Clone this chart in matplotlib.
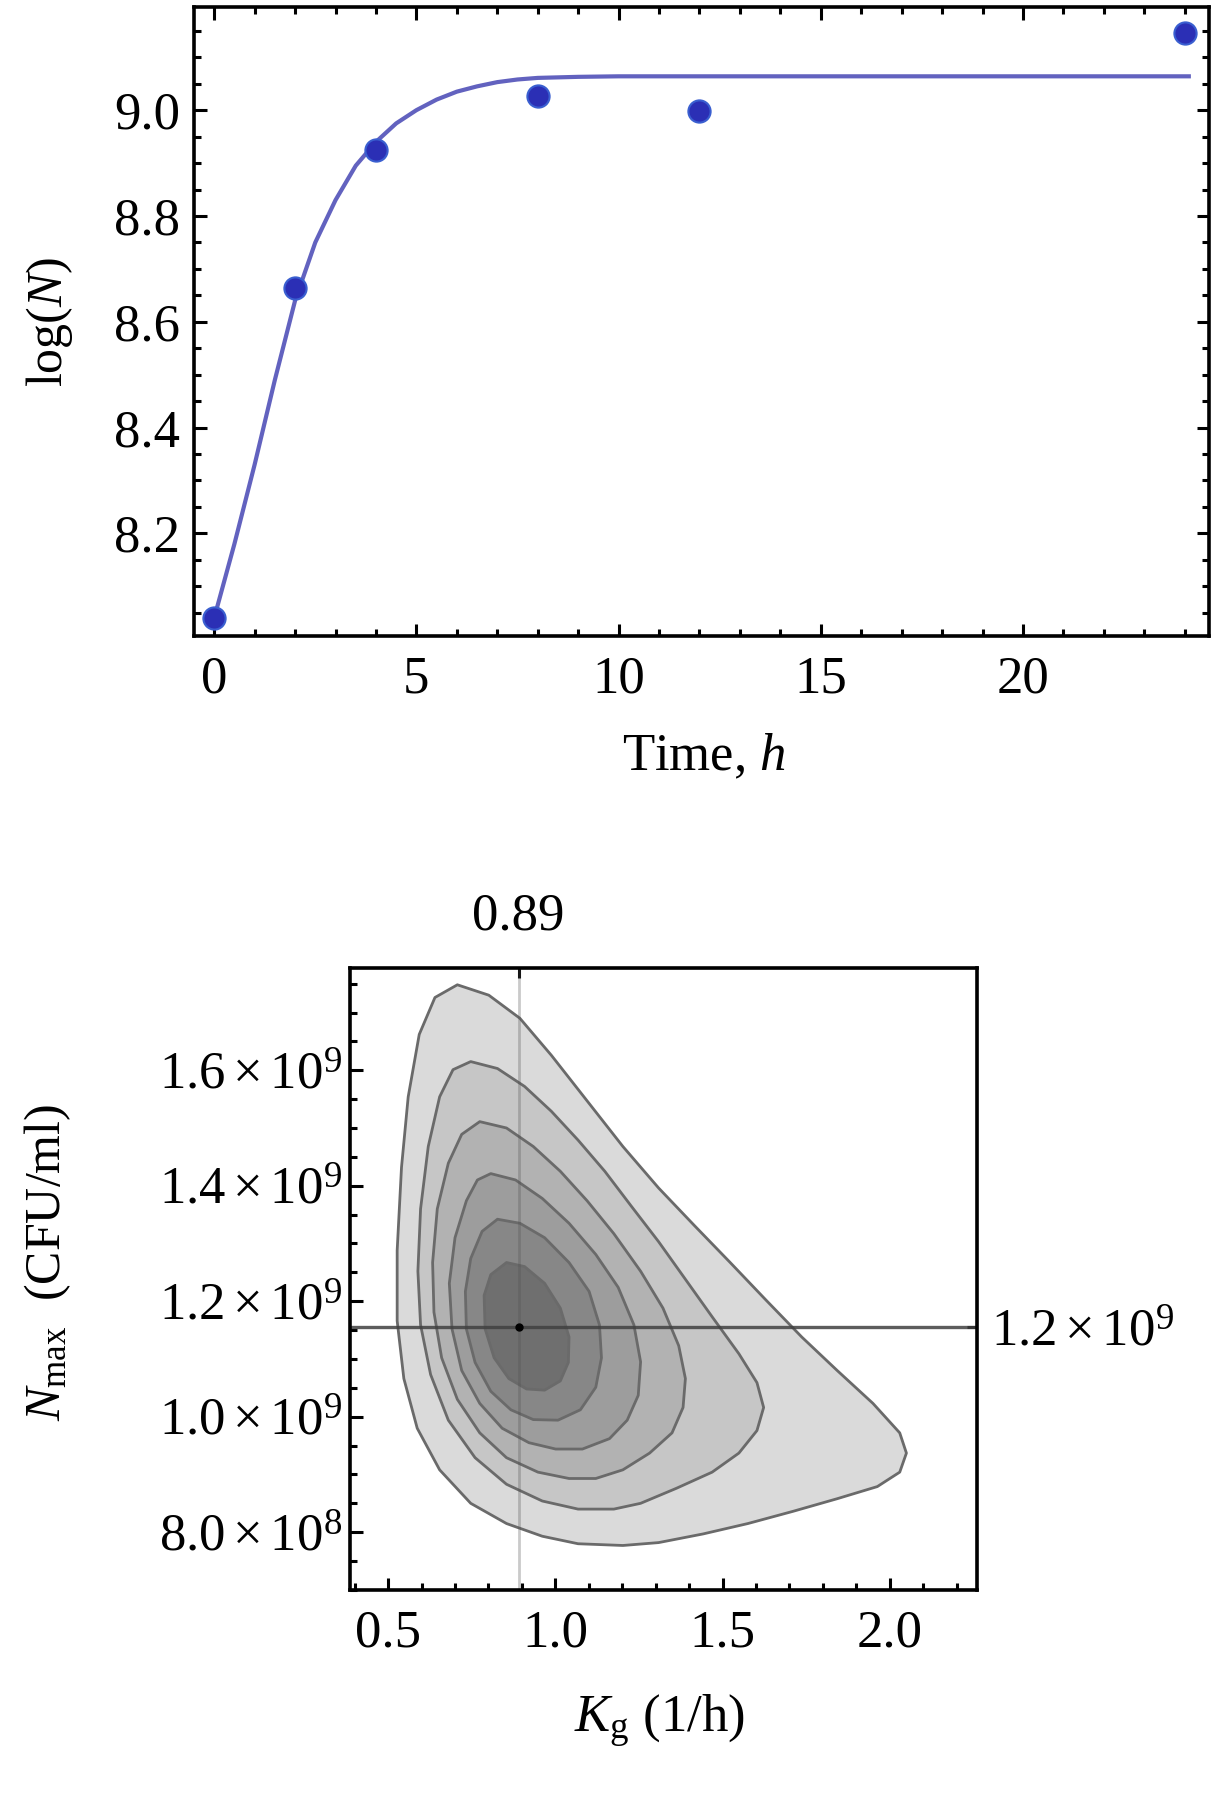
import numpy as np
import matplotlib
matplotlib.use("Agg")
import matplotlib.pyplot as plt
from matplotlib.ticker import MultipleLocator, FuncFormatter

plt.rcParams["font.family"] = ["Liberation Serif", "DejaVu Serif"]
plt.rcParams["mathtext.fontset"] = "custom"
plt.rcParams["mathtext.rm"] = "Liberation Serif"
plt.rcParams["mathtext.it"] = "Liberation Serif:italic"

# --- growth curve (top panel) ---
T_OBS = [0, 2, 4, 8, 12, 24]
LOGN_OBS = [8.04, 8.664, 8.924, 9.026, 8.998, 9.145]

T_FIT = [0.0, 0.5, 1.0, 1.5, 2.0, 2.5, 3.0, 3.5, 4.0, 4.5, 5.0, 5.5, 6.0,
         6.5, 7.0, 7.5, 8.0, 9.0, 10.0, 12.0, 16.0, 20.0, 24.1]
LOGN_FIT = [8.04, 8.18, 8.33, 8.49, 8.64, 8.75, 8.83, 8.895, 8.94, 8.975,
            9.0, 9.02, 9.035, 9.045, 9.053, 9.058, 9.061, 9.063, 9.064,
            9.064, 9.064, 9.064, 9.064]

# --- confidence region (bottom panel), N in units of 1e9 ---
KG_BEST = 0.89
NMAX_BEST = 1.155e9

C1_K = [0.707, 0.801, 0.894, 0.988, 1.095, 1.202, 1.309, 1.416, 1.523, 1.630,
        1.737, 1.843, 1.950, 2.030, 2.050, 2.030, 1.963, 1.843, 1.710, 1.576,
        1.442, 1.309, 1.202, 1.068, 0.961, 0.854, 0.747, 0.654, 0.587, 0.547,
        0.527, 0.527, 0.540, 0.560, 0.593, 0.640]
C1_N = [1.748, 1.730, 1.690, 1.626, 1.547, 1.468, 1.396, 1.331, 1.267, 1.202,
        1.138, 1.080, 1.023, 0.972, 0.937, 0.904, 0.879, 0.858, 0.836, 0.815,
        0.797, 0.782, 0.777, 0.780, 0.793, 0.815, 0.850, 0.908, 0.980, 1.066,
        1.166, 1.288, 1.432, 1.554, 1.662, 1.726]

C2_K = [0.747, 0.827, 0.908, 0.988, 1.068, 1.148, 1.228, 1.309, 1.389, 1.469,
        1.549, 1.603, 1.623, 1.603, 1.549, 1.469, 1.362, 1.255, 1.175, 1.068,
        0.961, 0.854, 0.760, 0.680, 0.627, 0.597, 0.589, 0.597, 0.620, 0.654,
        0.694]
C2_N = [1.615, 1.603, 1.572, 1.529, 1.479, 1.425, 1.364, 1.303, 1.238, 1.173,
        1.109, 1.059, 1.016, 0.976, 0.937, 0.904, 0.876, 0.850, 0.840, 0.840,
        0.854, 0.883, 0.929, 0.994, 1.073, 1.159, 1.252, 1.360, 1.468, 1.554,
        1.601]

C3_K = [0.774, 0.854, 0.934, 1.015, 1.095, 1.175, 1.255, 1.322, 1.369, 1.389,
        1.382, 1.349, 1.282, 1.202, 1.121, 1.041, 0.948, 0.854, 0.774, 0.707,
        0.660, 0.637, 0.633, 0.647, 0.680, 0.720]
C3_N = [1.511, 1.500, 1.468, 1.425, 1.374, 1.317, 1.252, 1.188, 1.123, 1.066,
        1.016, 0.972, 0.937, 0.908, 0.893, 0.893, 0.904, 0.929, 0.972, 1.030,
        1.102, 1.181, 1.267, 1.360, 1.439, 1.489]

C4_K = [0.807, 0.881, 0.961, 1.041, 1.121, 1.188, 1.235, 1.255, 1.248, 1.215,
        1.162, 1.081, 1.001, 0.921, 0.841, 0.774, 0.720, 0.691, 0.683, 0.700,
        0.734, 0.767]
C4_N = [1.421, 1.410, 1.378, 1.335, 1.281, 1.224, 1.159, 1.095, 1.037, 0.994,
        0.962, 0.944, 0.944, 0.955, 0.980, 1.023, 1.080, 1.152, 1.231, 1.310,
        1.374, 1.410]

C5_K = [0.827, 0.894, 0.968, 1.041, 1.101, 1.132, 1.138, 1.121, 1.075, 1.008,
        0.934, 0.867, 0.807, 0.760, 0.734, 0.731, 0.747, 0.781]
C5_N = [1.342, 1.335, 1.310, 1.267, 1.217, 1.159, 1.102, 1.051, 1.012, 0.994,
        0.995, 1.012, 1.044, 1.094, 1.152, 1.217, 1.274, 1.321]

C6_K = [0.854, 0.908, 0.968, 1.015, 1.041, 1.039, 1.015, 0.968, 0.914, 0.861,
        0.817, 0.790, 0.787, 0.807]
C6_N = [1.267, 1.260, 1.231, 1.188, 1.138, 1.094, 1.062, 1.046, 1.048, 1.066,
        1.102, 1.152, 1.210, 1.246]

CONTOURS = [(C1_K, C1_N), (C2_K, C2_N), (C3_K, C3_N),
            (C4_K, C4_N), (C5_K, C5_N), (C6_K, C6_N)]
SHADES = ["#dadada", "#c6c6c6", "#b2b2b2", "#9d9d9d", "#878787", "#6f6f6f"]


def style_frame(ax):
    for s in ax.spines.values():
        s.set_linewidth(2.6)
    ax.tick_params(which="both", direction="in", width=2.2, colors="black",
                   labelsize=38)
    ax.tick_params(which="major", length=9)
    ax.tick_params(which="minor", length=5)


def sci_fmt(v, pos=None):
    e = int(np.floor(np.log10(v)))
    m = v / 10 ** e
    return r"$%.1f\times10^{%d}$" % (m, e)


def main():
    fig = plt.figure(figsize=(12.2, 18.0), dpi=100)

    # top panel
    ax = fig.add_axes([0.159, 0.6467, 0.832, 0.3494])
    ax.plot(T_FIT, LOGN_FIT, color="#6262bf", lw=3.0, zorder=2,
            solid_joinstyle="round")
    ax.plot(T_OBS, LOGN_OBS, "o", color="#2b2fb5", ms=16, mec="#3a5fd0",
            mew=1.5, zorder=3, clip_on=False)
    ax.set_xlim(-0.5, 24.6)
    ax.set_ylim(8.006, 9.195)
    ax.xaxis.set_major_locator(MultipleLocator(5))
    ax.xaxis.set_minor_locator(MultipleLocator(1))
    ax.yaxis.set_major_locator(MultipleLocator(0.2))
    ax.yaxis.set_minor_locator(MultipleLocator(0.05))
    ax.yaxis.set_major_formatter(FuncFormatter(lambda v, p: "%.1f" % v))
    style_frame(ax)
    ax.tick_params(top=True, right=True, which="both")
    ax.tick_params(axis="x", pad=14)
    ax.tick_params(axis="y", pad=10)
    ax.set_xlabel("Time, $h$", fontsize=38, va="center")
    ax.xaxis.set_label_coords(0.502, -0.192)
    ax.set_ylabel("log($N$)", fontsize=36, va="center")
    ax.yaxis.set_label_coords(-0.142, 0.5)

    # bottom panel
    bx = fig.add_axes([0.2869, 0.1167, 0.5139, 0.3455])
    for (k, n), c in zip(CONTOURS, SHADES):
        bx.fill(k, np.array(n) * 1e9, facecolor=c, edgecolor="#6a6a6a",
                lw=2.0, joinstyle="round", zorder=1)
    bx.axvline(KG_BEST, color="#505050", alpha=0.3, lw=2.0, zorder=2)
    bx.axhline(NMAX_BEST, color="#404040", alpha=0.85, lw=2.4, zorder=2)
    bx.plot([KG_BEST], [NMAX_BEST], "o", color="black", ms=5, zorder=3)
    bx.set_xlim(0.386, 2.261)
    bx.set_ylim(0.70e9, 1.777e9)
    bx.xaxis.set_major_locator(MultipleLocator(0.5))
    bx.xaxis.set_minor_locator(MultipleLocator(0.1))
    bx.xaxis.set_major_formatter(FuncFormatter(lambda v, p: "%.1f" % v))
    bx.yaxis.set_major_locator(MultipleLocator(0.2e9))
    bx.yaxis.set_minor_locator(MultipleLocator(0.05e9))
    bx.yaxis.set_major_formatter(FuncFormatter(sci_fmt))
    style_frame(bx)
    bx.tick_params(axis="x", pad=14)
    bx.tick_params(axis="y", pad=6)

    top = bx.secondary_xaxis("top")
    top.set_xticks([KG_BEST])
    top.set_xticklabels(["0.89"])
    top.tick_params(direction="in", length=7, width=2.2, labelsize=38, pad=20)
    right = bx.secondary_yaxis("right")
    right.set_yticks([NMAX_BEST])
    right.set_yticklabels([r"$1.2\times10^{9}$"])
    right.tick_params(direction="in", length=7, width=2.2, labelsize=38, pad=10)

    bx.set_xlabel(r"$K_{\rm g}$ (1/h)", fontsize=38, va="center")
    bx.xaxis.set_label_coords(0.494, -0.211)
    bx.set_ylabel(r"$N_{\rm max}$  (CFU/ml)", fontsize=36, va="center")
    bx.yaxis.set_label_coords(-0.483, 0.526)

    fig.savefig("out.png", dpi=100, facecolor="white")


if __name__ == "__main__":
    main()
